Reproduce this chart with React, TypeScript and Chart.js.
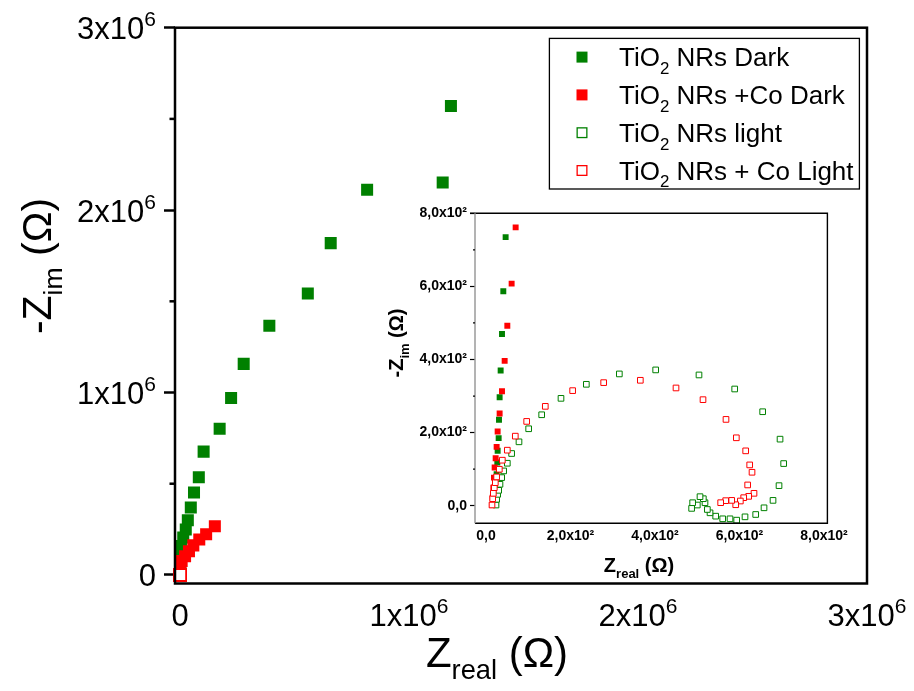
import React, { useEffect, useRef } from "react";
import { Chart, registerables } from "chart.js";
Chart.register(...registerables);

const FONT = "'Liberation Sans', Arial, Helvetica, sans-serif";
const GREEN = "#008000";
const RED = "#ff0000";

// ---------------- data (Ω) ----------------
// TiO2 NRs Dark
const darkRe = [22.9, 23.7, 24.5, 25.2, 26.8, 27.6, 30.0, 30.8, 32.3, 34.7, 37.9, 41.0, 46.5,
  500, 1000, 2000, 3000, 4000, 14000, 25000, 34000, 47000, 61000, 82000, 103000, 173000, 223000,
  278000, 390000, 558000, 658000, 817000, 1147000, 1183000];
const darkIm = [8.3, 31.2, 58.7, 86.1, 118.1, 150.2, 185, 235.3, 296.6, 369.8, 469.6, 586.7, 734.9,
  20000, 50000, 85000, 120000, 158000, 205000, 249000, 300000, 370000, 452000, 536000, 676000, 801000,
  970000, 1157000, 1366000, 1543000, 1819000, 2111000, 2151000, 2571000];
// TiO2 NRs +Co Dark
const coDarkRe = [14.2, 15.8, 17.4, 18.9, 20.5, 22.9, 25.2, 27.6, 32.3, 37.9, 44.2, 50.5, 60.7, 70.2,
  500, 1000, 7000, 22000, 39000, 58000, 84000, 114000, 152000];
const coDarkIm = [2.0, 22.1, 49.5, 76.9, 104.4, 130.0, 161.1, 203.2, 252.6, 313.0, 396.3, 492.4, 607.7, 761.5,
  21000, 48000, 76000, 103000, 130000, 162000, 194000, 223000, 267000];
// TiO2 NRs light
const lightRe = [23.7, 25.2, 27.6, 30.0, 33.1, 37.1, 41.8, 50.5, 60.7, 78.1, 101.0, 131.8, 177.5, 237.5,
  315.6, 401.6, 504.1, 588.6, 654.8, 695.9, 704.5, 693.5, 679.3, 658.0, 638.3, 613.0, 593.3, 577.5,
  560.2, 543.6, 530.2, 523.9, 518.3, 514.4, 506.5, 500.2, 489.1, 486.7];
const lightIm = [2, 17.6, 31.2, 42.2, 58.7, 77.0, 95.3, 116.3, 142.9, 174.9, 210.6, 248.9, 293.8, 332.2,
  360.6, 371.6, 357.8, 319.4, 257.2, 182.2, 115.4, 55.0, 14.7, -5.6, -23.9, -30.3, -39.4, -35.7,
  -35.7, -28.5, -19.3, -10.2, 8.3, 19.3, 24.8, 2, 8.3, -7.2];
// TiO2 NRs + Co Light
const coLightRe = [14.2, 15.8, 17.4, 19.7, 22.1, 25.2, 31.6, 38.7, 50.5, 69.4, 96.3, 140.4, 205.1, 278.5,
  365.3, 449.7, 513.6, 568.0, 592.5, 614.6, 624.1, 629.6, 619.3, 634.3, 621.7, 609.9, 602.0, 591.0,
  581.5, 567.3, 555.4];
const coLightIm = [2, 19.4, 34.0, 49.5, 63.2, 78.8, 99.8, 124.6, 152.0, 190.4, 230.7, 271.9, 314.9, 336.8,
  343.2, 322.2, 290.2, 236.2, 185.9, 150.2, 111.7, 91.6, 56.9, 34.0, 25.7, 22.1, 13.0, 2.8,
  14.7, 13.9, 8.4];

const seriesLabels = ["TiO2 NRs Dark", "TiO2 NRs +Co Dark", "TiO2 NRs light", "TiO2 NRs + Co Light"];

// ticks (base text + superscript exponent)
const mainXTicks = [0, 1e6, 2e6, 3e6];
const mainXTickBase = ["0", "1x10", "2x10", "3x10"];
const mainXTickExp = ["", "6", "6", "6"];
const mainYTicks = [0, 1e6, 2e6, 3e6];
const mainYTickBase = ["0", "1x10", "2x10", "3x10"];
const mainYTickExp = ["", "6", "6", "6"];
const mainYMinor = [0.5e6, 1.5e6, 2.5e6];
const insetXTicks = [0, 200, 400, 600, 800];
const insetXTickLabels = ["0,0", "2,0x10\u00b2", "4,0x10\u00b2", "6,0x10\u00b2", "8,0x10\u00b2"];
const insetYTicks = [0, 200, 400, 600, 800];
const insetYTickLabels = ["0,0", "2,0x10\u00b2", "4,0x10\u00b2", "6,0x10\u00b2", "8,0x10\u00b2"];
const insetYMinor = [100, 300, 500, 700];

// ---------------- helpers ----------------
type Part = { t: string; sub?: boolean };

function drawRich(ctx: CanvasRenderingContext2D, parts: Part[], x: number, y: number, size: number,
  bold: boolean, align: "left" | "center", subScale = 0.65, subDrop = 0.28) {
  const b = bold ? "bold " : "";
  const fMain = `${b}${size}px ${FONT}`;
  const fSub = `${b}${size * subScale}px ${FONT}`;
  const widths = parts.map((p) => {
    ctx.font = p.sub ? fSub : fMain;
    return ctx.measureText(p.t).width;
  });
  const total = widths.reduce((a, c) => a + c, 0);
  let cx = align === "center" ? x - total / 2 : x;
  ctx.textBaseline = "alphabetic";
  ctx.textAlign = "left";
  parts.forEach((p, i) => {
    ctx.font = p.sub ? fSub : fMain;
    ctx.fillText(p.t, cx, y + (p.sub ? size * subDrop : 0));
    cx += widths[i];
  });
}

// label with superscript exponent
function drawSup(ctx: CanvasRenderingContext2D, base: string, exp: string, x: number, y: number,
  align: "center" | "right") {
  const fMain = `31px ${FONT}`;
  const fSup = `21px ${FONT}`;
  ctx.font = fMain;
  const wb = ctx.measureText(base).width;
  ctx.font = fSup;
  const we = exp ? ctx.measureText(exp).width : 0;
  const total = wb + we;
  const x0 = align === "center" ? x - total / 2 : x - total;
  ctx.textAlign = "left";
  ctx.textBaseline = "alphabetic";
  ctx.font = fMain;
  ctx.fillText(base, x0, y);
  if (exp) {
    ctx.font = fSup;
    ctx.fillText(exp, x0 + wb, y - 13);
  }
}

function labelParts(s: string): Part[] {
  const idx = s.indexOf("TiO2");
  if (idx < 0) return [{ t: s }];
  return [{ t: s.slice(0, idx) + "TiO" }, { t: "2", sub: true }, { t: s.slice(idx + 4) }];
}

const toPts = (xs: number[], ys: number[]) => xs.map((x, i) => ({ x, y: ys[i] }));

function makeDatasets(filledR: number, openR: number, openBW: number) {
  return [
    { label: seriesLabels[0], data: toPts(darkRe, darkIm), pointStyle: "rect", pointRadius: filledR,
      backgroundColor: GREEN, borderColor: GREEN, borderWidth: 0, order: 3 },
    { label: seriesLabels[1], data: toPts(coDarkRe, coDarkIm), pointStyle: "rect", pointRadius: filledR,
      backgroundColor: RED, borderColor: RED, borderWidth: 0, order: 2 },
    { label: seriesLabels[2], data: toPts(lightRe, lightIm), pointStyle: "rect", pointRadius: openR,
      backgroundColor: "#ffffff", borderColor: GREEN, borderWidth: openBW, order: 1 },
    { label: seriesLabels[3], data: toPts(coLightRe, coLightIm), pointStyle: "rect", pointRadius: openR,
      backgroundColor: "#ffffff", borderColor: RED, borderWidth: openBW, order: 0 },
  ];
}

const legendStyles = [
  { fill: GREEN, stroke: null as string | null },
  { fill: RED, stroke: null as string | null },
  { fill: "#ffffff", stroke: GREEN },
  { fill: "#ffffff", stroke: RED },
];

// ---------------- plugins ----------------
const mainDecor = {
  id: "mainDecor",
  afterDraw(chart: any) {
    const ctx: CanvasRenderingContext2D = chart.ctx;
    const { left, right, top, bottom } = chart.chartArea;
    const xs = chart.scales.x;
    const ys = chart.scales.y;
    ctx.save();
    ctx.strokeStyle = "#000";
    ctx.lineWidth = 2.5;
    ctx.strokeRect(left, top, right - left, bottom - top);
    // minor ticks
    mainYMinor.forEach((v) => {
      const py = ys.getPixelForValue(v);
      ctx.beginPath();
      ctx.moveTo(left - 5.5, py);
      ctx.lineTo(left, py);
      ctx.stroke();
    });
    ctx.fillStyle = "#000";
    // tick labels
    mainXTicks.forEach((v, i) => {
      drawSup(ctx, mainXTickBase[i], mainXTickExp[i], xs.getPixelForValue(v), 626, "center");
    });
    mainYTicks.forEach((v, i) => {
      drawSup(ctx, mainYTickBase[i], mainYTickExp[i], 156, ys.getPixelForValue(v) + 11.5, "right");
    });
    // x title
    drawRich(ctx, [{ t: "Z" }, { t: "real", sub: true }, { t: " (\u03a9)" }], 497, 667, 42, false, "center");
    // y title
    ctx.save();
    ctx.translate(51, 266);
    ctx.rotate(-Math.PI / 2);
    drawRich(ctx, [{ t: "-Z" }, { t: "im", sub: true }, { t: " (\u03a9)" }], 0, 0, 41, false, "center");
    ctx.restore();
    // legend
    const lx0 = 549.4, ly0 = 38.4, lx1 = 859.4, ly1 = 189;
    ctx.fillStyle = "#fff";
    ctx.fillRect(lx0, ly0, lx1 - lx0, ly1 - ly0);
    ctx.lineWidth = 1.3;
    ctx.strokeStyle = "#000";
    ctx.strokeRect(lx0, ly0, lx1 - lx0, ly1 - ly0);
    seriesLabels.forEach((lab, i) => {
      const base = 66.1 + i * 37.8;
      const cy = base - 9;
      const st = legendStyles[i];
      const s = 11;
      ctx.fillStyle = st.fill;
      ctx.fillRect(582 - s / 2, cy - s / 2, s, s);
      if (st.stroke) {
        ctx.strokeStyle = st.stroke;
        ctx.lineWidth = 1.3;
        ctx.strokeRect(582 - s / 2 + 0.65, cy - s / 2 + 0.65, s - 1.3, s - 1.3);
      }
      ctx.fillStyle = "#000";
      drawRich(ctx, labelParts(lab), 619, base, 26, false, "left", 0.65, 0.3);
    });
    ctx.restore();
  },
};

const insetDecor = {
  id: "insetDecor",
  afterDraw(chart: any) {
    const ctx: CanvasRenderingContext2D = chart.ctx;
    const { left, right, top, bottom } = chart.chartArea;
    const ys = chart.scales.y;
    ctx.save();
    ctx.lineWidth = 1.4;
    ctx.strokeStyle = "#000";
    ctx.beginPath();
    ctx.moveTo(left - 5, top);
    ctx.lineTo(right, top);
    ctx.lineTo(right, bottom);
    ctx.lineTo(left, bottom);
    ctx.stroke();
    ctx.strokeStyle = "#9a9a9a";
    ctx.lineWidth = 1.5;
    ctx.beginPath();
    ctx.moveTo(left, top);
    ctx.lineTo(left, bottom);
    ctx.stroke();
    ctx.strokeStyle = "#000";
    ctx.lineWidth = 1.2;
    insetYMinor.forEach((v) => {
      const py = ys.getPixelForValue(v);
      ctx.beginPath();
      ctx.moveTo(left - 2, py);
      ctx.lineTo(left, py);
      ctx.stroke();
    });
    ctx.fillStyle = "#000";
    drawRich(ctx, [{ t: "Z" }, { t: "real", sub: true }, { t: " (\u03a9)" }], 639 - 360, 572 - 195, 20, true, "center");
    ctx.save();
    ctx.translate(403 - 360, 343 - 195);
    ctx.rotate(-Math.PI / 2);
    drawRich(ctx, [{ t: "-Z" }, { t: "im", sub: true }, { t: " (\u03a9)" }], 0, 0, 20, true, "center");
    ctx.restore();
    ctx.restore();
  },
};

// ---------------- component ----------------
const INSET_LEFT = 360;
const INSET_TOP = 195;
const INSET_W = 500;
const INSET_H = 395;

export default function App() {
  const mainRef = useRef<HTMLCanvasElement | null>(null);
  const insetRef = useRef<HTMLCanvasElement | null>(null);

  useEffect(() => {
    if (!mainRef.current || !insetRef.current) return;
    const main = new Chart(mainRef.current, {
      type: "scatter",
      data: { datasets: makeDatasets(8.5, 8.2, 1.5) as any },
      options: {
        animation: false,
        responsive: false,
        devicePixelRatio: 1,
        events: [],
        layout: { padding: { left: 0, top: 27.7, right: 47, bottom: 0 } },
        plugins: { legend: { display: false }, tooltip: { enabled: false } },
        datasets: { scatter: { clip: 10 } } as any,
        scales: {
          x: {
            type: "linear",
            min: -22000,
            max: 3e6,
            afterBuildTicks: (s: any) => { s.ticks = mainXTicks.map((v) => ({ value: v })); },
            afterFit: (s: any) => { s.height = 691 - 583.5; },
            ticks: { display: false },
            grid: { display: false, drawTicks: false },
            border: { display: false },
          },
          y: {
            type: "linear",
            min: -47000,
            max: 3e6,
            afterBuildTicks: (s: any) => { s.ticks = mainYTicks.map((v) => ({ value: v })); },
            afterFit: (s: any) => { s.width = 175; },
            ticks: { display: false },
            grid: { display: true, drawOnChartArea: false, drawTicks: true, tickLength: 11, tickWidth: 2.5, tickColor: "#000" },
            border: { display: false },
          },
        },
      } as any,
      plugins: [mainDecor],
    });

    const inset = new Chart(insetRef.current, {
      type: "scatter",
      data: { datasets: makeDatasets(4.2, 4.0, 1.0) as any },
      options: {
        animation: false,
        responsive: false,
        devicePixelRatio: 1,
        events: [],
        layout: { padding: { left: 0, top: 213.3 - INSET_TOP, right: INSET_LEFT + INSET_W - 827.4, bottom: 0 } },
        plugins: { legend: { display: false }, tooltip: { enabled: false } },
        scales: {
          x: {
            type: "linear",
            min: -26,
            max: 808,
            afterBuildTicks: (s: any) => { s.ticks = insetXTicks.map((v) => ({ value: v })); },
            afterFit: (s: any) => { s.height = INSET_TOP + INSET_H - 523.3; },
            ticks: {
              autoSkip: false, maxRotation: 0, padding: 4, color: "#000",
              font: { size: 14, family: FONT, weight: "bold" },
              callback: (_v: any, i: number) => insetXTickLabels[i],
            },
            grid: { display: false, drawTicks: false },
            border: { display: false },
          },
          y: {
            type: "linear",
            min: -48,
            max: 800,
            afterBuildTicks: (s: any) => { s.ticks = insetYTicks.map((v) => ({ value: v })); },
            afterFit: (s: any) => { s.width = 475 - INSET_LEFT; },
            ticks: {
              autoSkip: false, padding: 3, color: "#000",
              font: { size: 14, family: FONT, weight: "bold" },
              callback: (_v: any, i: number) => insetYTickLabels[i],
            },
            grid: { display: true, drawOnChartArea: false, drawTicks: true, tickLength: 5, tickWidth: 1.2, tickColor: "#000" },
            border: { display: false },
          },
        },
      } as any,
      plugins: [insetDecor],
    });

    return () => {
      main.destroy();
      inset.destroy();
    };
  }, []);

  return (
    <div style={{ position: "absolute", left: 0, top: 0, width: 914, height: 691, background: "#fff" }}>
      <canvas ref={mainRef} width={914} height={691}
        style={{ position: "absolute", left: 0, top: 0, width: 914, height: 691 }} />
      <canvas ref={insetRef} width={INSET_W} height={INSET_H}
        style={{ position: "absolute", left: INSET_LEFT, top: INSET_TOP, width: INSET_W, height: INSET_H }} />
    </div>
  );
}
